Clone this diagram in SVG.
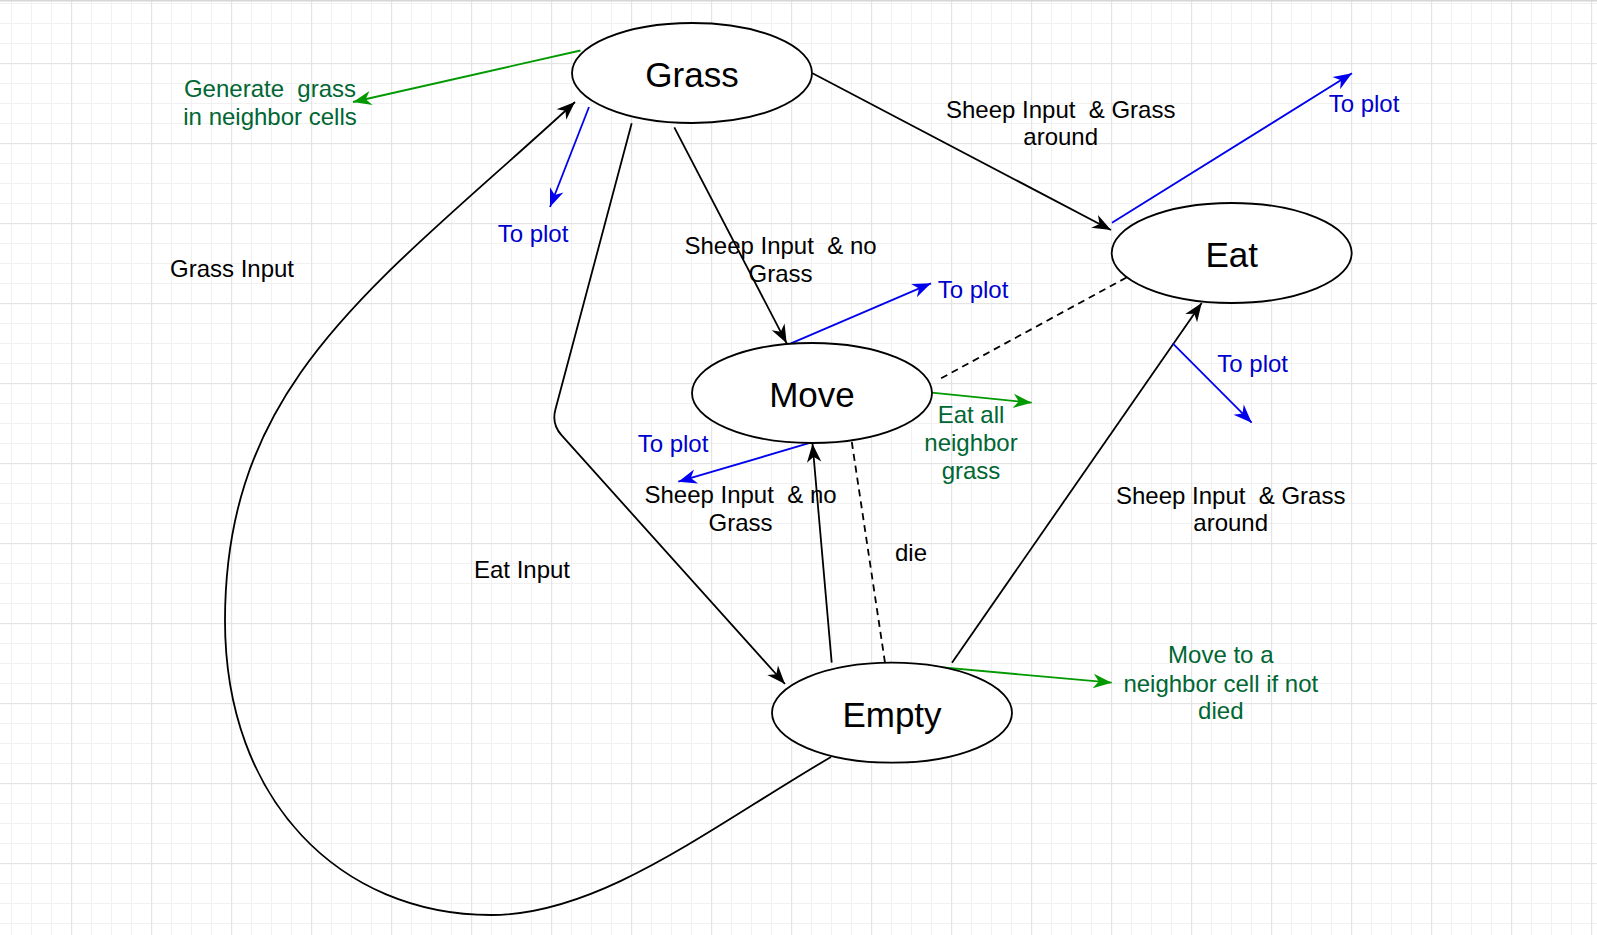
<svg xmlns="http://www.w3.org/2000/svg" width="1597" height="935" viewBox="0 0 1597 935">
<style>
.node ellipse{fill:#fff;stroke:#000;stroke-width:1.8}
.node text{font-family:"Liberation Sans",Arial,Helvetica,sans-serif;font-size:35px;fill:#000;text-anchor:middle}
.lbl{font-family:"Liberation Sans",Arial,Helvetica,sans-serif;font-size:24px;text-anchor:middle}
.k{fill:#000}.b{fill:#0000cc}.g{fill:#006633}
.e{fill:none;stroke-width:1.8}
.ek{stroke:#000}.eb{stroke:#0000ee}.eg{stroke:#009900}
.dash{stroke-dasharray:7 5}
</style>
<defs>
<pattern id="grid" patternUnits="userSpaceOnUse" x="11" y="3" width="80" height="80">
<rect x="0" y="0" width="1" height="80" fill="#f1f1f1"/>
<rect x="20" y="0" width="1" height="80" fill="#f1f1f1"/>
<rect x="40" y="0" width="1" height="80" fill="#f1f1f1"/>
<rect x="0" y="0" width="80" height="1" fill="#f1f1f1"/>
<rect x="0" y="20" width="80" height="1" fill="#f1f1f1"/>
<rect x="0" y="40" width="80" height="1" fill="#f1f1f1"/>
<rect x="60" y="0" width="1.2" height="80" fill="#e4e4e4"/>
<rect x="0" y="60" width="80" height="1.2" fill="#e4e4e4"/>
</pattern>
<marker id="ak" viewBox="-20 -9 22 18" refX="0" refY="0" markerWidth="22" markerHeight="18" markerUnits="userSpaceOnUse" orient="auto"><path d="M0,0 L-18.5,-7.2 L-13,0 L-18.5,7.2 Z" fill="#000"/></marker>
<marker id="ab" viewBox="-20 -9 22 18" refX="0" refY="0" markerWidth="22" markerHeight="18" markerUnits="userSpaceOnUse" orient="auto"><path d="M0,0 L-18.5,-7.2 L-13,0 L-18.5,7.2 Z" fill="#0000ee"/></marker>
<marker id="ag" viewBox="-20 -9 22 18" refX="0" refY="0" markerWidth="22" markerHeight="18" markerUnits="userSpaceOnUse" orient="auto"><path d="M0,0 L-18.5,-7.2 L-13,0 L-18.5,7.2 Z" fill="#009900"/></marker>
</defs>
<rect width="1597" height="935" fill="#fff"/>
<rect width="1597" height="935" fill="url(#grid)"/>
<rect x="0" y="0" width="1597" height="1.5" fill="#d6d6d6"/>

<g id="connectors">
<path class="e eg" d="M580.5 50.5 L353 102" marker-end="url(#ag)"/>
<path class="e eb" d="M589 107 L550 207" marker-end="url(#ab)"/>
<path class="e ek" d="M831 757 C711 827 601 915 491 915 C341 915 225 801 225 621 C225 381 375 286 575 102" marker-end="url(#ak)"/>
<path class="e ek" d="M631.7 123.3 L555.4 409.5 Q551.5 424 561.5 435.2 L785 684" marker-end="url(#ak)"/>
<path class="e ek" d="M674.3 127.3 L786.7 343.3" marker-end="url(#ak)"/>
<path class="e ek" d="M812.5 73.3 L1111 230" marker-end="url(#ak)"/>
<path class="e eb" d="M1112 222.7 L1352 73.3" marker-end="url(#ab)"/>
<path class="e eb" d="M791 343.3 L931 283.3" marker-end="url(#ab)"/>
<path class="e ek dash" d="M1126.5 277.5 L938 380"/>
<path class="e eg" d="M931.7 392.7 L1031.7 402.7" marker-end="url(#ag)"/>
<path class="e eb" d="M810.7 442.7 L678.3 481.7" marker-end="url(#ab)"/>
<path class="e ek" d="M831.7 662.7 L812.5 443.7" marker-end="url(#ak)"/>
<path class="e ek dash" d="M851.8 442 L885 662.7"/>
<path class="e ek" d="M952 662.7 L1201.7 303" marker-end="url(#ak)"/>
<path class="e eb" d="M1172.7 343.3 L1251.7 422.7" marker-end="url(#ab)"/>
<path class="e eg" d="M890 662.7 L1111.7 682.7" marker-end="url(#ag)"/>
</g>

<g id="node-grass" class="node"><ellipse cx="692" cy="73" rx="120" ry="50"/><text x="692" y="87">Grass</text></g>
<g id="node-eat" class="node"><ellipse cx="1231.7" cy="253" rx="120" ry="50"/><text x="1231.7" y="267">Eat</text></g>
<g id="node-move" class="node"><ellipse cx="812" cy="393" rx="120" ry="50"/><text x="812" y="407">Move</text></g>
<g id="node-empty" class="node"><ellipse cx="892" cy="712.7" rx="120" ry="50"/><text x="892" y="726.5">Empty</text></g>

<g id="labels">
<text class="lbl g" x="270" y="97" xml:space="preserve">Generate  grass</text>
<text class="lbl g" x="270" y="125">in neighbor cells</text>
<text class="lbl b" x="533" y="241.5">To plot</text>
<text class="lbl k" x="232" y="277.3">Grass Input</text>
<text class="lbl k" x="1060.7" y="117.7" xml:space="preserve">Sheep Input  &amp; Grass</text>
<text class="lbl k" x="1060.7" y="145">around</text>
<text class="lbl b" x="1364" y="112">To plot</text>
<text class="lbl k" x="780.5" y="254" xml:space="preserve">Sheep Input  &amp; no</text>
<text class="lbl k" x="780.5" y="281.7">Grass</text>
<text class="lbl b" x="973" y="297.7">To plot</text>
<text class="lbl b" x="1252.7" y="371.7">To plot</text>
<text class="lbl g" x="971" y="423.3">Eat all</text>
<text class="lbl g" x="971" y="451">neighbor</text>
<text class="lbl g" x="971" y="479">grass</text>
<text class="lbl b" x="673" y="451.7">To plot</text>
<text class="lbl k" x="740.5" y="503.3" xml:space="preserve">Sheep Input  &amp; no</text>
<text class="lbl k" x="740.5" y="530.7">Grass</text>
<text class="lbl k" x="911" y="561">die</text>
<text class="lbl k" x="522" y="578">Eat Input</text>
<text class="lbl k" x="1230.7" y="504.3" xml:space="preserve">Sheep Input  &amp; Grass</text>
<text class="lbl k" x="1230.7" y="531">around</text>
<text class="lbl g" x="1220.8" y="663.3">Move to a</text>
<text class="lbl g" x="1220.8" y="691.7">neighbor cell if not</text>
<text class="lbl g" x="1220.8" y="719">died</text>
</g>
</svg>
